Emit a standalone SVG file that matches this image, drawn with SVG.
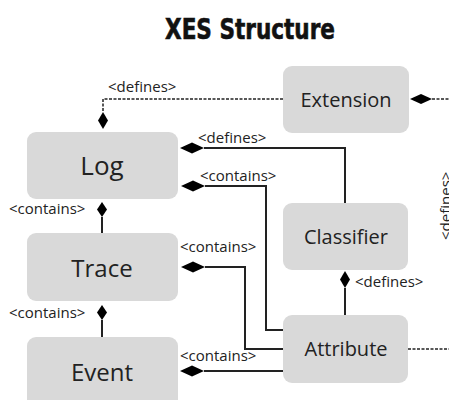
<svg xmlns="http://www.w3.org/2000/svg" width="449" height="400" viewBox="0 0 449 400">
<style>
.box{fill:#d9d9d9}
.nt{font-family:"Open Sans","Noto Sans",sans-serif;fill:#222;text-anchor:middle}
.lbl{font-family:"Open Sans","Noto Sans",sans-serif;font-size:15px;fill:#222}
.ln{fill:none;stroke:#222;stroke-width:2}
.dl{fill:none;stroke:#222;stroke-width:1.5;stroke-dasharray:3 1.5}
.dm{fill:#000}
</style>
<rect width="449" height="400" fill="#fff"/>
<text x="250" y="39" font-family="'DejaVu Sans Condensed','Liberation Sans',sans-serif" font-weight="bold" font-size="29" text-anchor="middle" textLength="170" lengthAdjust="spacingAndGlyphs" fill="#111" stroke="#111" stroke-width="0.6">XES Structure</text>
<g id="connectors">
  <polyline class="dl" points="283,99 103,99 103,112"/>
  <path class="dm" d="M103,112 L108,120.5 L103,129 L98,120.5 Z"/>
  <line class="dl" x1="432" y1="99" x2="449" y2="99"/>
  <path class="dm" d="M410,99 L421,94 L432,99 L421,104 Z"/>
  <polyline class="ln" points="204,148 345,148 345,203"/>
  <path class="dm" d="M180,148 L192,142.5 L204,148 L192,153.5 Z"/>
  <polyline class="ln" points="205,186 266,186 266,330 283,330"/>
  <path class="dm" d="M181,186 L193,180.5 L205,186 L193,191.5 Z"/>
  <line class="ln" x1="102" y1="217" x2="102" y2="233"/>
  <path class="dm" d="M102,202 L107,209.5 L102,217 L97,209.5 Z"/>
  <polyline class="ln" points="205,267 245,267 245,349 283,349"/>
  <path class="dm" d="M181,267 L193,261.5 L205,267 L193,272.5 Z"/>
  <line class="ln" x1="102" y1="320" x2="102" y2="337"/>
  <path class="dm" d="M102,305 L107,312.5 L102,320 L97,312.5 Z"/>
  <line class="ln" x1="204" y1="371" x2="283" y2="371"/>
  <path class="dm" d="M180,371 L192,365.5 L204,371 L192,376.5 Z"/>
  <line class="ln" x1="345" y1="288" x2="345" y2="315"/>
  <path class="dm" d="M345,271 L350,279.5 L345,288 L340,279.5 Z"/>
  <line class="dl" x1="408" y1="349" x2="449" y2="349"/>
  <text class="lbl" x="108" y="92">&lt;defines&gt;</text>
  <text class="lbl" x="198" y="143">&lt;defines&gt;</text>
  <text class="lbl" x="200" y="181">&lt;contains&gt;</text>
  <text class="lbl" x="9" y="214">&lt;contains&gt;</text>
  <text class="lbl" x="180" y="252">&lt;contains&gt;</text>
  <text class="lbl" x="355" y="287">&lt;defines&gt;</text>
  <text class="lbl" x="9" y="318">&lt;contains&gt;</text>
  <text class="lbl" x="180" y="361">&lt;contains&gt;</text>
  <text class="lbl" transform="translate(451,240) rotate(-90)">&lt;defines&gt;</text>
</g>
<g id="extension"><rect class="box" x="283" y="66" width="126" height="67" rx="9"/><text class="nt" x="346" y="107" font-size="20">Extension</text></g>
<g id="log"><rect class="box" x="27" y="132" width="151" height="67" rx="9"/><text class="nt" x="102" y="175" font-size="26">Log</text></g>
<g id="classifier"><rect class="box" x="283" y="203" width="125" height="67" rx="9"/><text class="nt" x="346" y="244" font-size="20">Classifier</text></g>
<g id="trace"><rect class="box" x="27" y="233" width="151" height="68" rx="9"/><text class="nt" x="102" y="277" font-size="24">Trace</text></g>
<g id="attribute"><rect class="box" x="283" y="315" width="125" height="68" rx="9"/><text class="nt" x="346" y="356" font-size="20">Attribute</text></g>
<g id="event"><rect class="box" x="27" y="337" width="151" height="75" rx="9"/><text class="nt" x="102" y="381" font-size="24">Event</text></g>
</svg>
